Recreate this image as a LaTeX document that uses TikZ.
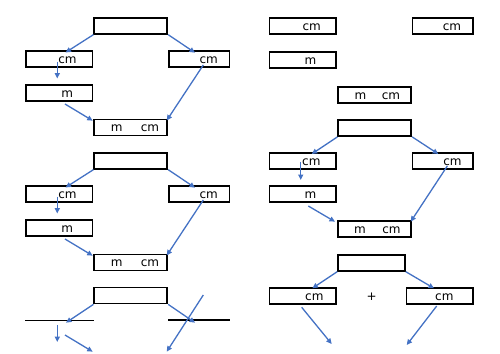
\documentclass[tikz,border=0pt]{standalone}
\usepackage{fontspec}
\setmainfont{DejaVu Sans}
\usetikzlibrary{arrows.meta}
\definecolor{arr}{RGB}{68,114,196}
\begin{document}
\begin{tikzpicture}[x=1pt,y=-1pt,
 box/.style={draw,line width=1.7pt,inner sep=0pt,minimum height=16pt},
 wide/.style={box,minimum width=73pt},
 narrow/.style={box,minimum width=66.5pt},
 short/.style={box,minimum width=60.5pt},
 lbl/.style={anchor=base,inner sep=0pt,font=\fontsize{12}{14}\selectfont},
 arrow/.style={draw=arr,line width=1.3pt,-{Triangle[length=5.5pt,width=5pt]}},
 bar/.style={draw,line width=1.6pt},
 ]
\useasboundingbox (0,0) rectangle (500,353);

% ---------- left column, two full blocks ----------
\foreach \p/\dy in {a/0,b/135}{
  \node[wide]   (\p T) at (130.8,25.8+\dy) {};
  \node[narrow] (\p L) at (59.2,59.2+\dy) {};
  \node[short]  (\p R) at (199.2,59.2+\dy) {};
  \node[narrow] (\p M) at (59.2,93+\dy) {};
  \node[wide]   (\p B) at (130.8,127.5+\dy) {};
  \node[lbl] (\p Lt)  at (67.5,63.6+\dy) {cm};
  \node[lbl] (\p Rt)  at (208.7,63.6+\dy) {cm};
  \node[lbl] (\p Mt)  at (67.2,97.4+\dy) {m};
  \node[lbl] (\p Bta) at (116.7,131.9+\dy) {m};
  \node[lbl] (\p Btb) at (150,131.9+\dy) {cm};
  \coordinate (\p l1) at (65.5,52.5+\dy);
  \coordinate (\p r1) at (195,52.7+\dy);
  \coordinate (\p d0) at (57.3,61.5+\dy);
  \coordinate (\p d1) at (57.3,78.5+\dy);
  \coordinate (\p m0) at (65,104+\dy);
  \coordinate (\p m1) at (92.7,120.7+\dy);
  \coordinate (\p s0) at (203.3,65+\dy);
  \coordinate (\p s1) at (166.7,120.5+\dy);
  \draw[arrow] (\p T.south west) -- (\p l1);
  \draw[arrow] (\p T.south east) -- (\p r1);
  \draw[arrow] (\p d0) -- (\p d1);
  \draw[arrow] (\p m0) -- (\p m1);
  \draw[arrow] (\p s0) -- (\p s1);
}

% ---------- left column, cut-off block ----------
\node[wide] (cT) at (130.8,295.5) {};
\coordinate (cla) at (25,320.5);
\coordinate (clb) at (94,320.5);
\coordinate (cra) at (168.3,320);
\coordinate (crb) at (230,320);
\draw[bar] (cla) -- (clb);
\draw[bar] (cra) -- (crb);
\coordinate (cl1) at (66,322.7);
\coordinate (cr1) at (195,322.7);
\coordinate (cd0) at (57.3,325);
\coordinate (cd1) at (57.3,342);
\coordinate (cm0) at (65,335);
\coordinate (cm1) at (92.7,351.7);
\coordinate (cs0) at (203.3,295);
\coordinate (cs1) at (166.7,351.7);
\draw[arrow] (cT.south west) -- (cl1);
\draw[arrow] (cT.south east) -- (cr1);
\draw[arrow] (cd0) -- (cd1);
\draw[arrow] (cm0) -- (cm1);
\draw[arrow] (cs0) -- (cs1);

% ---------- right column, loose boxes ----------
\node[narrow] (A)  at (302.8,26.2) {};
\node[short]  (Bx) at (442.8,26.2) {};
\node[narrow] (M0) at (302.8,60) {};
\node[wide]   (MC) at (374.8,95) {};
\node[lbl] (At)   at (311.7,30.6) {cm};
\node[lbl] (Bxt)  at (452,30.6) {cm};
\node[lbl] (M0t)  at (310.5,64.4) {m};
\node[lbl] (MCta) at (360.5,99.4) {m};
\node[lbl] (MCtb) at (391,99.4) {cm};

% ---------- right column, full block ----------
\node[wide]   (dT) at (374.8,128) {};
\node[narrow] (dL) at (302.8,160.8) {};
\node[short]  (dR) at (442.8,160.8) {};
\node[narrow] (dM) at (302.8,194.3) {};
\node[wide]   (dB) at (374.8,229.2) {};
\node[lbl] (dLt)  at (311.3,165.2) {cm};
\node[lbl] (dRt)  at (452.5,165.2) {cm};
\node[lbl] (dMt)  at (310.5,198.7) {m};
\node[lbl] (dBta) at (360,233.6) {m};
\node[lbl] (dBtb) at (391.5,233.6) {cm};
\coordinate (dl1) at (311.7,154);
\coordinate (dr1) at (438.3,154);
\coordinate (dd0) at (300.7,161.7);
\coordinate (dd1) at (300.7,180);
\coordinate (dm0) at (308.3,206);
\coordinate (dm1) at (335,221.7);
\coordinate (ds0) at (447.3,166);
\coordinate (ds1) at (410.7,221.7);
\draw[arrow] (dT.south west) -- (dl1);
\draw[arrow] (dT.south east) -- (dr1);
\draw[arrow] (dd0) -- (dd1);
\draw[arrow] (dm0) -- (dm1);
\draw[arrow] (ds0) -- (ds1);

% ---------- right column, sum block ----------
\node[box,minimum width=66.7pt] (eT) at (371.5,262.8) {};
\node[narrow] (eL) at (302.8,296.2) {};
\node[box,minimum width=66.6pt] (eR) at (439.8,296.2) {};
\node[lbl] (eLt) at (314.3,300.6) {cm};
\node[lbl] (eRt) at (444.3,300.6) {cm};
\node[lbl] (plus) at (371.7,300.6) {+};
\coordinate (el1) at (312.3,288.3);
\coordinate (er1) at (434,288.3);
\coordinate (ea0) at (301.7,307.3);
\coordinate (ea1) at (331.7,344);
\coordinate (eb0) at (436.7,306);
\coordinate (eb1) at (406.7,345);
\draw[arrow] (eT.south west) -- (el1);
\draw[arrow] (eT.south east) -- (er1);
\draw[arrow] (ea0) -- (ea1);
\draw[arrow] (eb0) -- (eb1);
\end{tikzpicture}
\end{document}
